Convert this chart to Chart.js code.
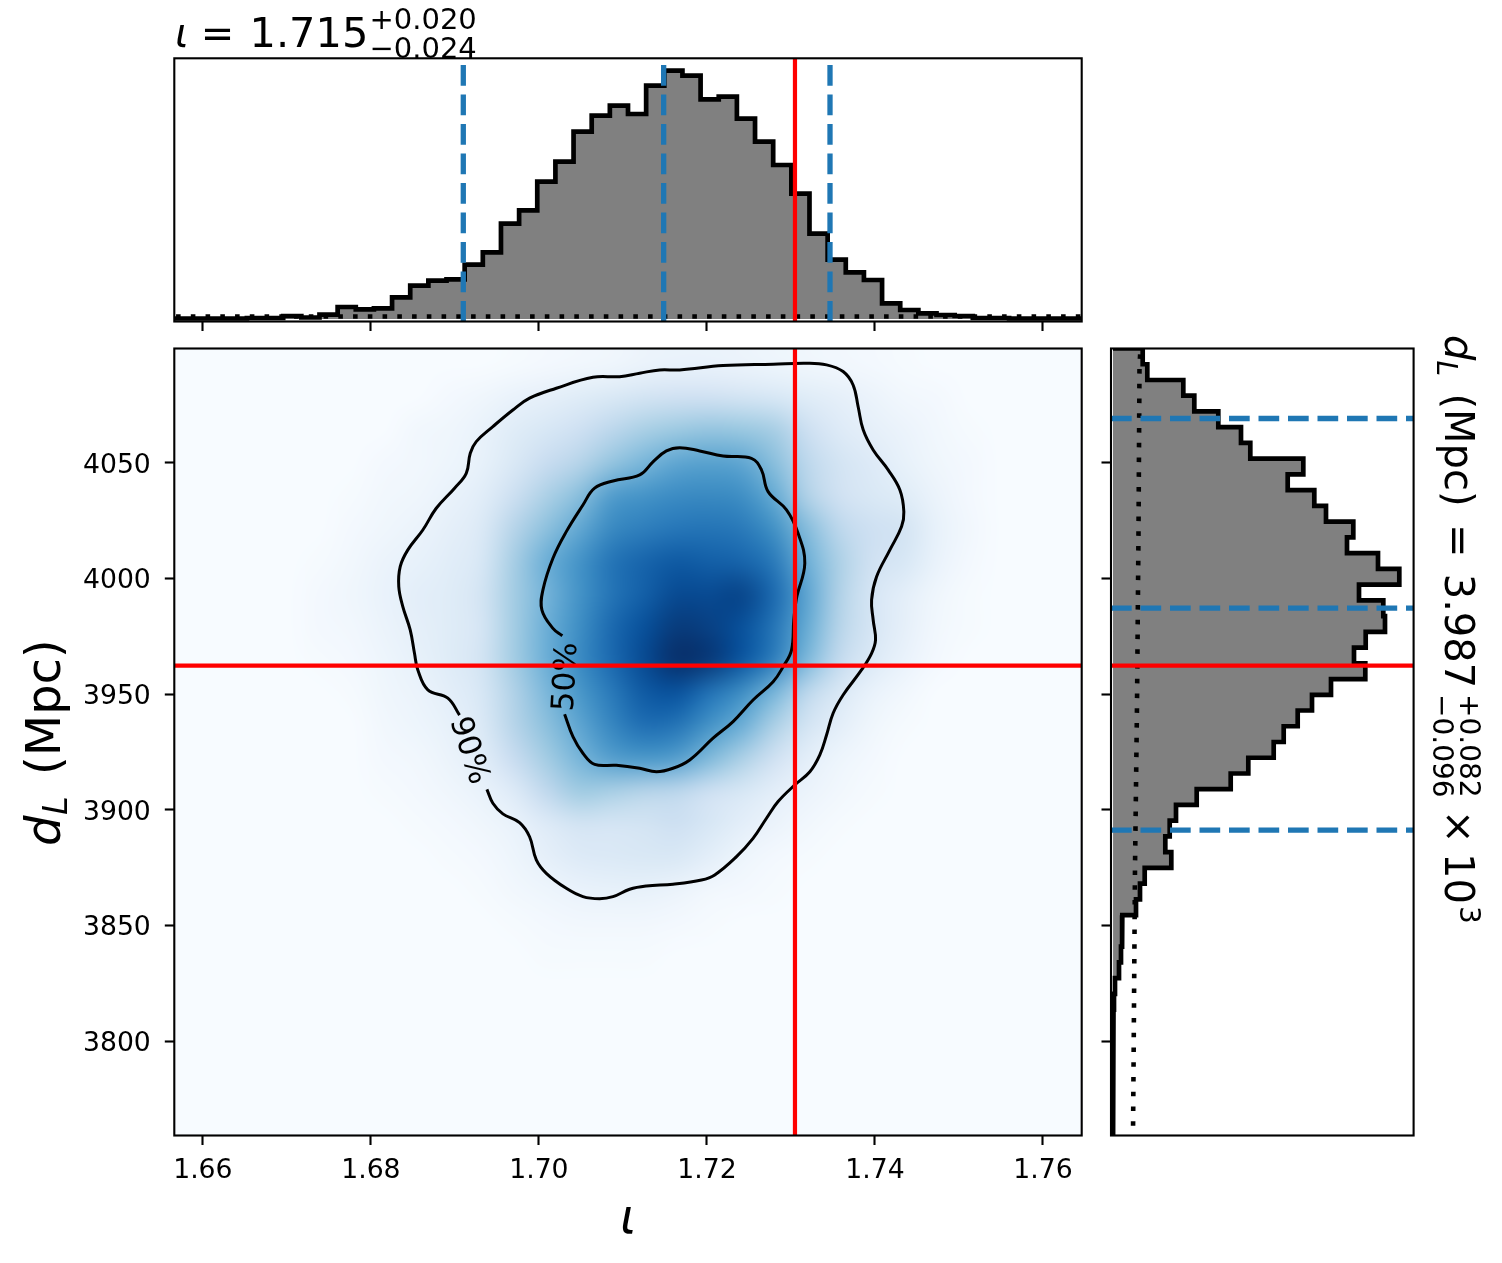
<!DOCTYPE html>
<html>
<head>
<meta charset="utf-8">
<style>
html,body{margin:0;padding:0;background:#fff;width:1502px;height:1263px;overflow:hidden}
canvas{position:absolute;display:block}
svg{position:absolute;left:0;top:0;pointer-events:none}
svg text{font-family:"DejaVu Sans";fill:#000}
</style>
<script src="https://cdn.jsdelivr.net/npm/chart.js@4/dist/chart.umd.js"></script>
</head>
<body>
<canvas id="top" width="1095" height="340" style="left:0;top:0;width:1095px;height:340px"></canvas>
<canvas id="main" width="1095" height="923" style="left:0;top:340px;width:1095px;height:923px"></canvas>
<canvas id="side" width="407" height="923" style="left:1095px;top:340px;width:407px;height:923px"></canvas>
<svg id="labels" width="1502" height="1263" xmlns="http://www.w3.org/2000/svg"></svg>
<script>
// ---------- axis ranges and ticks ----------
const iotaRange = [1.6566, 1.76461];
const distRange = [3759.15, 4099.37];
const iotaTicks = [1.66, 1.68, 1.70, 1.72, 1.74, 1.76];
const distTicks = [3800, 3850, 3900, 3950, 4000, 4050];

// ---------- marginal histograms (50 bins, arbitrary density units) ----------
const iotaHist = [0.5,0.5,0.5,0.5,1,1,3,1.5,4.3,12,9.7,10.7,21.7,33.3,38.3,39.7,54.3,66.7,95.3,108.7,137.3,157.3,187.3,203.3,213.3,205,233.3,248.3,243.3,219.7,222.3,200.3,177.3,154,125.3,85.3,59.3,46.7,39,15.7,9,5.7,4,3,1,1,0.5,0.5,0.5,0.5];
// bins listed from the largest distance to the smallest
const distHist = [29.7,34.3,70.3,81.3,105.3,128,137.3,190.3,174.7,201.3,213,240.3,234,265,286.3,246,270.3,272,252.7,241,252.3,218,199,184.7,170.7,160.7,135.3,117.7,83.7,63,56.7,52.3,58.3,31.7,27,23,9.3,9,8,6,2,1,0.5,0.3,0.2,0.1,0,0,0,0];

// ---------- priors (dotted) ----------
const iotaPrior = [2.5, 2.5];
const distPriorAt = [4099.37, 4092, 4020, 3945, 3875, 3786, 3759.15];
const distPrior = [27.5, 26.5, 25.5, 24, 22, 20.5, 20];

// ---------- quantiles and injected values ----------
const iotaQuantiles = [1.691, 1.71485, 1.73465];
const distQuantiles = [4069.1, 3987.1, 3891.2];
const iotaInjected = 1.73048;
const distInjected = 3962.3;

// ---------- contours ----------
const contour90X = [1.69381,1.69452,1.69571,1.6977,1.69889,1.69969,1.70088,1.70326,1.70524,1.70723,1.70882,1.7108,1.71279,1.71596,1.71935,1.72093,1.72352,1.72549,1.72709,1.72847,1.73046,1.73225,1.73344,1.73424,1.73502,1.73621,1.7384,1.7396,1.74007,1.73979,1.7396,1.74019,1.74178,1.74317,1.74344,1.74297,1.74157,1.73979,1.7386,1.738,1.7374,1.73621,1.73424,1.73185,1.72788,1.72192,1.71676,1.71438,1.712,1.70961,1.70643,1.70207,1.69889,1.6969,1.69452,1.69254,1.69183,1.69135,1.68996,1.68778,1.68618,1.6844,1.68349,1.68332,1.6838,1.68468,1.68519,1.68559,1.68678,1.68916,1.69055];
const contour90Y = [3908.8,3902.8,3898.2,3894.4,3888.3,3878.3,3872.5,3866,3862.4,3861.5,3862.4,3865.6,3867,3867.8,3869.6,3871.8,3879.7,3887.6,3896.3,3903.5,3910.7,3916.4,3923.7,3932.3,3941.7,3949.6,3960.4,3967.6,3973.4,3982,3990.7,4000.7,4012.3,4022.4,4028.8,4038.2,4046.9,4055.5,4064.2,4074.2,4083.6,4089.4,4092.3,4093,4092.6,4092,4090.1,4090.1,4088.7,4087.2,4086.9,4082.2,4077.9,4072.8,4065.6,4059.1,4054.1,4045.4,4039,4030.3,4020.9,4012.3,4005.1,3996.4,3987.8,3977.7,3967.6,3960.4,3951.8,3948.2,3940.9];
const contour50X = [1.70306,1.70405,1.70524,1.70663,1.70922,1.712,1.71399,1.71596,1.71795,1.72073,1.72311,1.72549,1.72788,1.72907,1.73007,1.73034,1.73066,1.73165,1.73085,1.72947,1.72728,1.72649,1.7253,1.72192,1.71914,1.71676,1.71518,1.71358,1.712,1.70882,1.70663,1.70524,1.70326,1.70167,1.70048,1.70036,1.70167,1.70279];
const contour50Y = [3941.3,3931.6,3924.4,3919.6,3919.2,3917.9,3916.4,3917.9,3921.5,3930.9,3938.1,3947.4,3955.3,3961.8,3969,3982,3991.4,4006.5,4019.5,4029.6,4037.5,4046.9,4051.9,4052.9,4055.1,4056.5,4055.1,4050.4,4044.7,4042.1,4039,4031.7,4020.2,4008.7,3995,3986.3,3978.4,3975.2];
const contourLabels = ["50%", "90%"];
const contourLabelIota = [1.7033, 1.6916];
const contourLabelDist = [3957.4, 3925.5];
const contourLabelAngle = [-87, 72];

// ---------- density image (coarse estimate, 0-100, top row = largest distance) ----------
const heat = [
[0,0,0,0,0,0,0,0,0,0,1,2,3,4,6,7,7,6,5,4,3,2,1,0,0,0,0,0],
[0,0,0,0,0,0,0,0,2,4,7,9,12,15,18,20,20,18,16,12,9,6,3,2,0,0,0,0],
[0,0,0,0,0,0,0,3,4,7,12,16,21,28,34,38,40,39,35,22,13,9,6,3,1,0,0,0],
[0,0,0,0,0,0,2,3,5,8,15,24,30,40,47,54,56,54,43,28,18,13,8,4,2,0,0,0],
[0,0,0,0,0,1,3,4,7,11,22,33,43,58,62,65,66,64,52,32,20,15,12,6,2,0,0,0],
[0,0,0,0,0,2,4,6,9,14,30,42,53,66,70,73,74,72,63,44,28,21,18,8,3,0,0,0],
[0,0,0,0,1,3,6,8,11,16,35,50,62,74,80,84,82,80,72,50,33,20,16,7,2,0,0,0],
[0,0,0,0,2,4,7,10,12,18,36,48,62,74,82,90,90,92,78,55,32,17,10,4,1,0,0,0],
[0,0,0,0,2,3,6,9,12,17,36,50,64,78,88,96,94,88,74,52,30,17,9,3,1,0,0,0],
[0,0,0,0,1,2,5,8,12,18,36,50,65,78,90,100,97,86,70,46,26,14,7,2,0,0,0,0],
[0,0,0,0,0,1,4,6,10,16,32,46,60,72,84,87,75,64,47,28,15,7,3,0,0,0,0,0],
[0,0,0,0,0,0,3,5,8,14,30,42,54,67,76,74,62,50,33,18,10,4,1,0,0,0,0,0],
[0,0,0,0,0,0,2,3,6,11,24,36,47,57,60,57,45,33,20,10,5,2,0,0,0,0,0,0],
[0,0,0,0,0,0,1,2,4,7,13,27,37,34,30,28,21,16,10,6,3,1,0,0,0,0,0,0],
[0,0,0,0,0,0,0,1,2,4,7,13,18,17,18,21,16,10,6,3,1,0,0,0,0,0,0,0],
[0,0,0,0,0,0,0,0,1,2,5,9,13,14,15,15,10,5,2,1,0,0,0,0,0,0,0,0],
[0,0,0,0,0,0,0,0,0,1,3,5,7,8,8,6,3,2,1,0,0,0,0,0,0,0,0,0],
[0,0,0,0,0,0,0,0,0,0,1,2,3,3,3,2,1,0,0,0,0,0,0,0,0,0,0,0],
[0,0,0,0,0,0,0,0,0,0,0,1,1,1,1,0,0,0,0,0,0,0,0,0,0,0,0,0],
[0,0,0,0,0,0,0,0,0,0,0,0,0,0,0,0,0,0,0,0,0,0,0,0,0,0,0,0],
[0,0,0,0,0,0,0,0,0,0,0,0,0,0,0,0,0,0,0,0,0,0,0,0,0,0,0,0],
[0,0,0,0,0,0,0,0,0,0,0,0,0,0,0,0,0,0,0,0,0,0,0,0,0,0,0,0],
[0,0,0,0,0,0,0,0,0,0,0,0,0,0,0,0,0,0,0,0,0,0,0,0,0,0,0,0],
[0,0,0,0,0,0,0,0,0,0,0,0,0,0,0,0,0,0,0,0,0,0,0,0,0,0,0,0]
];
const blues = [[247,251,255],[222,235,247],[198,219,239],[158,202,225],[107,174,214],[66,146,198],[33,113,181],[8,81,156],[8,48,107]];

// ---------- helpers ----------
function blueAt(v){
  const t = Math.max(0,Math.min(1,v/100))*(blues.length-1);
  const i = Math.min(blues.length-2,Math.floor(t)), f = t-i;
  return blues[i].map((c,k)=>Math.round(c+(blues[i+1][k]-c)*f));
}
const TXT = '#000', GREY = '#808080', BLUE = '#1f77b4', RED = '#ff0000';
const DASH = [20.7, 8.8], DOT = [4.6, 10.15];
const HIST_W = 4.7, RED_W = 4.2;
const tickFont = {family:'DejaVu Sans', size:26.67};
const base = {responsive:false, animation:false, devicePixelRatio:1, events:[],
  plugins:{legend:{display:false}, tooltip:{enabled:false}, title:{display:false}}};
const lineDefaults = {showLine:true, pointRadius:0, tension:0, fill:false, clip:0, borderCapStyle:'butt', borderJoinStyle:'miter'};
const fixW = w => s => { s.width = w; s.paddingTop = 0; s.paddingBottom = 0; };
const fixH = h => s => { s.height = h; s.paddingLeft = 0; s.paddingRight = 0; };
function spines(id){ return {id, afterDraw(c){ const a=c.chartArea, g=c.ctx; g.save(); g.strokeStyle='#000'; g.lineWidth=2.1; g.setLineDash([]); g.strokeRect(a.left,a.top,a.right-a.left,a.bottom-a.top); g.restore(); }}; }
function tickGrid(){ return {drawOnChartArea:false, drawTicks:true, tickLength:9.5, tickWidth:2.1, tickColor:'#000'}; }
function fixedTicks(list){ return s => { s.ticks = list.map(v=>({value:v})); }; }

// ---------- top marginal ----------
const iotaStep = (iotaRange[1]-iotaRange[0])/iotaHist.length;
const topOutline = [{x:iotaRange[0],y:0}];
iotaHist.forEach((v,i)=>{ topOutline.push({x:iotaRange[0]+i*iotaStep,y:v},{x:iotaRange[0]+(i+1)*iotaStep,y:v}); });
topOutline.push({x:iotaRange[1],y:0});
new Chart(document.getElementById('top'),{
  type:'scatter',
  data:{datasets:[
    {...lineDefaults, data:[{x:iotaInjected,y:-2.5},{x:iotaInjected,y:260.7}], borderColor:RED, borderWidth:RED_W, order:0},
    ...iotaQuantiles.map(q=>({...lineDefaults, data:[{x:q,y:254},{x:q,y:-2.5}], borderColor:BLUE, borderWidth:5.3, borderDash:DASH, order:1})),
    {...lineDefaults, data:iotaPrior.map((v,i)=>({x:iotaRange[i],y:v})), borderColor:'#000', borderWidth:4.6, borderDash:DOT, borderDashOffset:13, order:2},
    {...lineDefaults, data:topOutline, borderColor:'#000', backgroundColor:GREY, borderWidth:HIST_W, fill:'shape', order:3}
  ]},
  options:{...base, layout:{padding:{left:174.3,top:58.3,right:1095-1081.7,bottom:0}},
    scales:{
      x:{type:'linear',min:iotaRange[0],max:iotaRange[1],afterFit:fixH(340-321.5),afterBuildTicks:fixedTicks(iotaTicks),
         grid:tickGrid(),border:{display:false},ticks:{display:false,autoSkip:false}},
      y:{type:'linear',min:-2.5,max:260.7,display:false}
    }},
  plugins:[spines('s1'),{id:'bgTop',beforeDraw(c){const a=c.chartArea;c.ctx.fillStyle='#fff';c.ctx.fillRect(a.left,a.top,a.right-a.left,a.bottom-a.top);}}]
});

// ---------- main panel ----------
const contourStyle = {...lineDefaults, tension:0.4, borderColor:'#000', borderWidth:3, borderCapStyle:'butt', borderJoinStyle:'round'};
const heatPlugin = {id:'heat', beforeDatasetsDraw(c){
  const g=c.ctx, xs=c.scales.x, ys=c.scales.y;
  const rows=heat.length, cols=heat[0].length;
  const off=document.createElement('canvas'); off.width=cols; off.height=rows;
  const oc=off.getContext('2d'), img=oc.createImageData(cols,rows);
  heat.forEach((row,r)=>row.forEach((v,k)=>{ const col=blueAt(v), p=(r*cols+k)*4; img.data[p]=col[0];img.data[p+1]=col[1];img.data[p+2]=col[2];img.data[p+3]=255; }));
  oc.putImageData(img,0,0);
  const x0=xs.getPixelForValue(iotaRange[0]), x1=xs.getPixelForValue(iotaRange[1]);
  const y0=ys.getPixelForValue(distRange[1]), y1=ys.getPixelForValue(distRange[0]);
  g.save(); g.imageSmoothingEnabled=true; g.imageSmoothingQuality='high';
  g.drawImage(off,x0,y0,x1-x0,y1-y0);
  // contour labels sit above the image, below the injected-value lines
  g.fillStyle='#000'; g.font='31px "DejaVu Sans"'; g.textAlign='center'; g.textBaseline='middle';
  contourLabels.forEach((t,i)=>{ g.save(); g.translate(xs.getPixelForValue(contourLabelIota[i]),ys.getPixelForValue(contourLabelDist[i])); g.rotate(contourLabelAngle[i]*Math.PI/180); g.fillText(t,0,0); g.restore(); });
  g.restore();
}};
// y tick labels in the reference sit slightly below the tick mark
const nudgeLabels = {id:'nudge', beforeDraw(c){ c.scales.y.getLabelItems(c.chartArea).forEach(it=>{ if(!it._moved){ it.options.translation[1]+=3; it._moved=true; } }); }};
new Chart(document.getElementById('main'),{
  type:'scatter',
  data:{datasets:[
    {...lineDefaults, data:[{x:iotaInjected,y:distRange[0]},{x:iotaInjected,y:distRange[1]}], borderColor:RED, borderWidth:RED_W, order:0},
    {...lineDefaults, data:[{x:iotaRange[0],y:distInjected},{x:iotaRange[1],y:distInjected}], borderColor:RED, borderWidth:RED_W, order:0},
    {...contourStyle, data:contour90X.map((x,i)=>({x,y:contour90Y[i]})), order:1},
    {...contourStyle, data:contour50X.map((x,i)=>({x,y:contour50Y[i]})), order:1}
  ]},
  options:{...base, layout:{padding:{left:0,top:8.5,right:1095-1081.7,bottom:0}},
    scales:{
      x:{type:'linear',min:iotaRange[0],max:iotaRange[1],afterFit:fixH(923-795.5),afterBuildTicks:fixedTicks(iotaTicks),
         grid:tickGrid(),border:{display:false},
         ticks:{autoSkip:false,maxRotation:0,minRotation:0,color:TXT,font:tickFont,padding:10,callback:v=>v.toFixed(2)}},
      y:{type:'linear',min:distRange[0],max:distRange[1],afterFit:fixW(174.3),afterBuildTicks:fixedTicks(distTicks),
         grid:tickGrid(),border:{display:false},
         ticks:{autoSkip:false,color:TXT,font:tickFont,padding:14,callback:v=>String(v)}}
    }},
  plugins:[nudgeLabels,heatPlugin,spines('s2')]
});

// ---------- right marginal ----------
const distStep = (distRange[1]-distRange[0])/distHist.length;
const sideOutline = [{x:0,y:distRange[1]}];
distHist.forEach((v,i)=>{ sideOutline.push({x:v,y:distRange[1]-i*distStep},{x:v,y:distRange[1]-(i+1)*distStep}); });
sideOutline.push({x:0,y:distRange[0]});
new Chart(document.getElementById('side'),{
  type:'scatter',
  data:{datasets:[
    {...lineDefaults, data:[{x:-2,y:distInjected},{x:300.6,y:distInjected}], borderColor:RED, borderWidth:RED_W, order:0},
    ...distQuantiles.map(q=>({...lineDefaults, data:[{x:-2,y:q},{x:300.6,y:q}], borderColor:BLUE, borderWidth:5.3, borderDash:DASH, order:1})),
    {...lineDefaults, data:distPrior.map((v,i)=>({x:v,y:distPriorAt[i]})), borderColor:'#000', borderWidth:4.6, borderDash:DOT, borderDashOffset:8.95, order:2},
    {...lineDefaults, data:sideOutline, borderColor:'#000', backgroundColor:GREY, borderWidth:HIST_W, fill:'shape', order:3}
  ]},
  options:{...base, layout:{padding:{left:0,top:8.5,right:1502-1095-318.6,bottom:923-795.5}},
    scales:{
      x:{type:'linear',min:-2,max:300.6,display:false},
      y:{type:'linear',min:distRange[0],max:distRange[1],afterFit:fixW(16),afterBuildTicks:fixedTicks(distTicks),
         grid:tickGrid(),border:{display:false},ticks:{display:false,autoSkip:false}}
    }},
  plugins:[spines('s3')]
});

// ---------- mathematical labels ----------
const svg = document.getElementById('labels');
function put(text,x,y,size,opts={}){
  const t=document.createElementNS('http://www.w3.org/2000/svg','text');
  t.textContent=text; t.setAttribute('font-size',size);
  if(opts.italic) t.setAttribute('font-style','oblique');
  if(opts.anchor) t.setAttribute('text-anchor',opts.anchor);
  t.setAttribute('transform',`translate(${x} ${y}) rotate(${opts.rot||0})`);
  svg.appendChild(t);
}
// title
put('\u03B9',175,46.7,40,{italic:true});
put('=',200.8,46.7,40);
put('1.715',249.5,46.7,41.5);
put('+0.020',369.5,29.3,29);
put('\u22120.024',369.5,57.7,29);
// x label
put('\u03B9',628,1233,48,{italic:true,anchor:'middle'});
// y label
put('d',59.7,846,48,{italic:true,rot:-90});
put('L',67,815,33.6,{italic:true,rot:-90});
put('(Mpc)',59.7,775,48,{rot:-90});
// right label
put('d',1445,335,40,{italic:true,rot:90});
put('L',1437,360.5,28,{italic:true,rot:90});
put('(Mpc)',1445,393.5,40,{rot:90});
put('=',1445,524,40,{rot:90});
put('3.987',1445,573.7,40,{rot:90});
put('+0.082',1460,694,28,{rot:90});
put('\u22120.096',1433,694,28,{rot:90});
put('\u00D7',1445,810,40,{rot:90});
put('10',1445,853,40,{rot:90});
put('3',1460,906,28,{rot:90});
</script>
</body>
</html>
